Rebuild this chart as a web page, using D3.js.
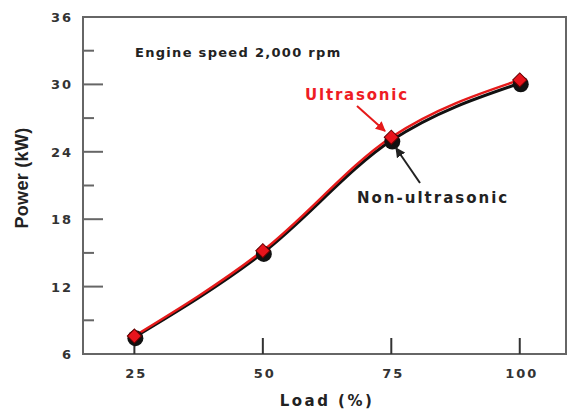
<!DOCTYPE html>
<html>
<head>
<meta charset="utf-8">
<script src="https://cdn.jsdelivr.net/npm/d3@7"></script>
<style>
  body { margin: 0; background: #fff; }
  text { font-family: "DejaVu Sans", Verdana, sans-serif; font-weight: bold; }
  .tick-label { font-size: 13px; fill: #333; letter-spacing: 2px; }
</style>
</head>
<body>
<svg id="chart" width="569" height="411"></svg>
<script>
// chart data
const loads = [25, 50, 75, 100];
const ultrasonic = [7.6, 15.2, 25.3, 30.4];
const nonUltrasonic = [7.5, 15.0, 25.0, 30.1];
const yTicks = [6, 12, 18, 24, 30, 36];
const yMinorTicks = [9, 15, 21, 27, 33];

const svg = d3.select('#chart');

// plot frame in pixels
const frame = {left: 83, right: 566, top: 17, bottom: 354};

const xScale = d3.scaleLinear().domain([15, 109]).range([frame.left, frame.right]);
const yScale = d3.scaleLinear().domain([6, 36]).range([frame.bottom, frame.top]);

// frame
svg.append('rect')
    .attr('x', frame.left).attr('y', frame.top)
    .attr('width', frame.right - frame.left).attr('height', frame.bottom - frame.top)
    .attr('fill', 'none').attr('stroke', '#666').attr('stroke-width', 2);

// y ticks (inward)
svg.selectAll('.ytick').data(yTicks.slice(1, -1)).join('line')
    .attr('x1', frame.left).attr('x2', frame.left + 20)
    .attr('y1', d => yScale(d)).attr('y2', d => yScale(d))
    .attr('stroke', '#666').attr('stroke-width', 2);
svg.selectAll('.yminor').data(yMinorTicks).join('line')
    .attr('x1', frame.left).attr('x2', frame.left + 11)
    .attr('y1', d => yScale(d)).attr('y2', d => yScale(d))
    .attr('stroke', '#666').attr('stroke-width', 2);
svg.selectAll('.ylabel').data(yTicks).join('text')
    .attr('class', 'tick-label')
    .attr('x', 73).attr('y', d => yScale(d) + 5)
    .attr('text-anchor', 'end')
    .text(d => d);

// x ticks (inward)
svg.selectAll('.xtick').data(loads).join('line')
    .attr('x1', d => xScale(d)).attr('x2', d => xScale(d))
    .attr('y1', frame.bottom).attr('y2', frame.bottom - 16)
    .attr('stroke', '#333').attr('stroke-width', 2);
svg.selectAll('.xlabel').data(loads).join('text')
    .attr('class', 'tick-label')
    .attr('x', d => xScale(d) + 2).attr('y', 378)
    .attr('text-anchor', 'middle')
    .text(d => d);

// axis titles
svg.append('text')
    .attr('x', 327).attr('y', 406)
    .attr('text-anchor', 'middle')
    .style('font-size', '15px').style('letter-spacing', '2.5px').attr('fill', '#222')
    .text('Load  (%)');
svg.append('text')
    .attr('transform', 'translate(28,178) rotate(-90)')
    .attr('text-anchor', 'middle')
    .style('font-family', '"Liberation Sans", Arial, sans-serif')
    .style('font-size', '18px').style('letter-spacing', '0.3px').attr('fill', '#222')
    .text('Power (kW)');

// curves
const line = d3.line()
    .x((d, i) => xScale(loads[i]))
    .y(d => yScale(d))
    .curve(d3.curveMonotoneX);

svg.append('path').datum(nonUltrasonic)
    .attr('d', line).attr('fill', 'none')
    .attr('stroke', '#111').attr('stroke-width', 3);
svg.append('path').datum(ultrasonic)
    .attr('d', line).attr('fill', 'none')
    .attr('stroke', '#e51a1a').attr('stroke-width', 2.5);

// markers: black circles for non-ultrasonic, red diamonds for ultrasonic
svg.selectAll('.nmark').data(nonUltrasonic).join('circle')
    .attr('cx', (d, i) => xScale(loads[i]) + 1)
    .attr('cy', d => yScale(d) + 1)
    .attr('r', 8).attr('fill', '#111');
svg.selectAll('.umark').data(ultrasonic).join('rect')
    .attr('x', -5).attr('y', -5).attr('width', 10).attr('height', 10)
    .attr('transform', (d, i) => `translate(${xScale(loads[i])},${yScale(d)}) rotate(45)`)
    .attr('fill', '#e8141c').attr('stroke', '#600').attr('stroke-width', 1);

// annotations
svg.append('text')
    .attr('x', 135).attr('y', 57)
    .style('font-size', '13px').style('letter-spacing', '1.3px').attr('fill', '#222')
    .text('Engine speed 2,000 rpm');

svg.append('defs').selectAll('marker').data(['red', 'black']).join('marker')
    .attr('id', d => 'arrow-' + d)
    .attr('viewBox', '0 0 10 10').attr('refX', 9).attr('refY', 5)
    .attr('markerWidth', 5).attr('markerHeight', 5).attr('orient', 'auto')
  .append('path')
    .attr('d', 'M0,0 L10,5 L0,10 z')
    .attr('fill', d => d === 'red' ? '#e51a1a' : '#222');

svg.append('text')
    .attr('x', 305).attr('y', 100)
    .style('font-size', '15px').style('letter-spacing', '1.8px').attr('fill', '#ee1c24')
    .text('Ultrasonic');
svg.append('line')
    .attr('x1', 357).attr('y1', 106).attr('x2', 385).attr('y2', 131)
    .attr('stroke', '#e51a1a').attr('stroke-width', 2)
    .attr('marker-end', 'url(#arrow-red)');

svg.append('text')
    .attr('x', 357).attr('y', 203)
    .style('font-size', '15px').style('letter-spacing', '2px').attr('fill', '#222')
    .text('Non-ultrasonic');
svg.append('line')
    .attr('x1', 420).attr('y1', 183).attr('x2', 396).attr('y2', 148)
    .attr('stroke', '#222').attr('stroke-width', 2)
    .attr('marker-end', 'url(#arrow-black)');
</script>
</body>
</html>
